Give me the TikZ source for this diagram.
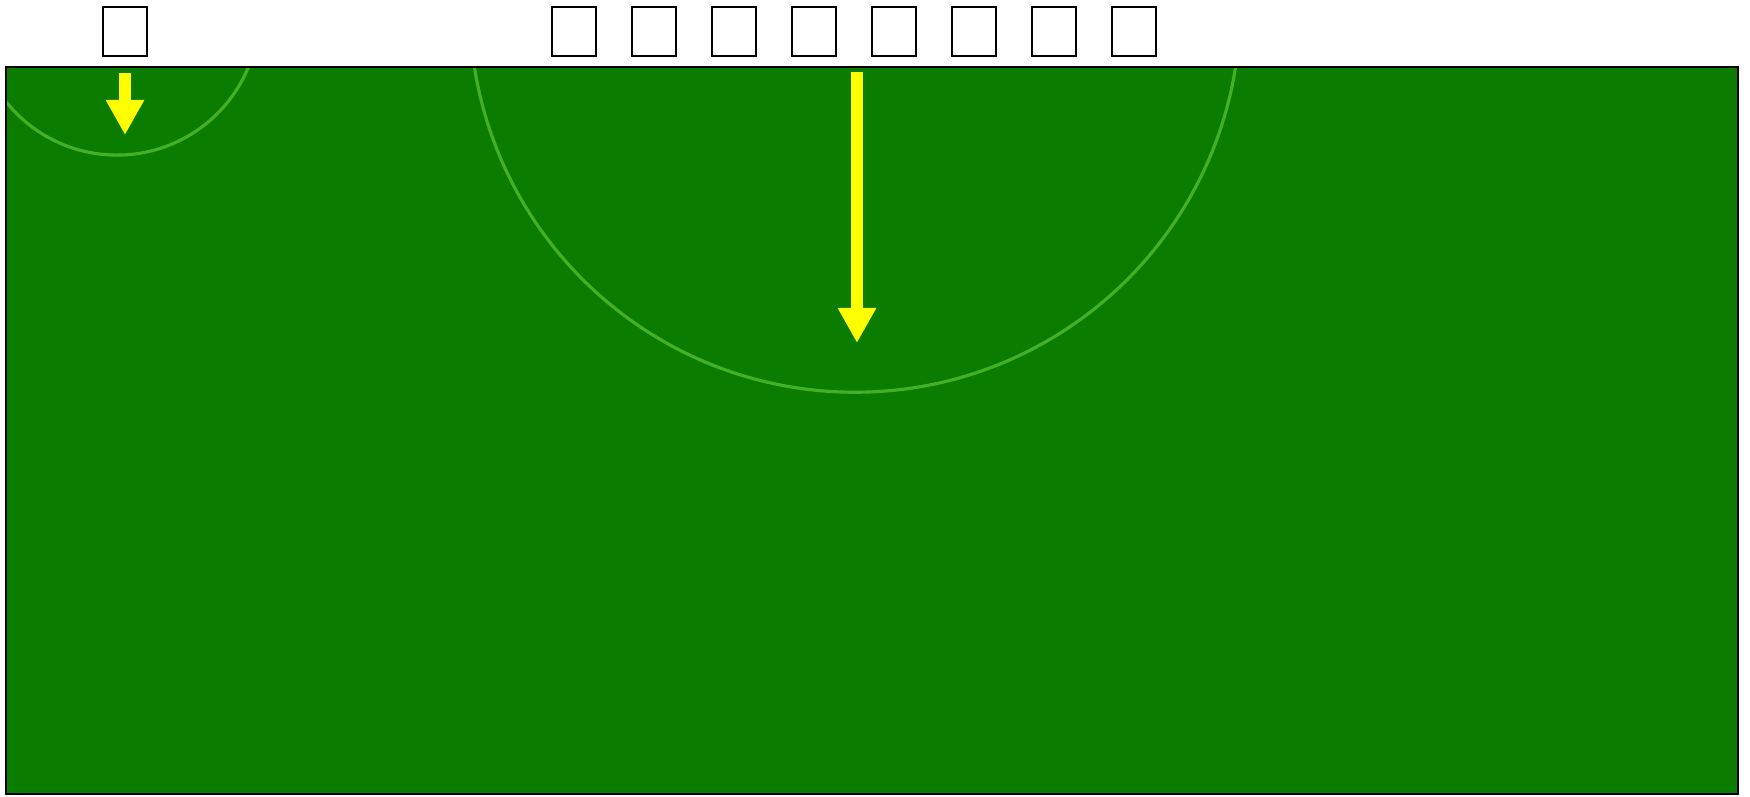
\documentclass[tikz,border=0pt]{standalone}
\usetikzlibrary{positioning,arrows.meta}
\definecolor{leaf}{RGB}{10,124,0}
\definecolor{rimgreen}{RGB}{80,186,42}
\definecolor{signal}{RGB}{255,255,0}
\begin{document}
\begin{tikzpicture}[x=0.01cm, y=-0.01cm,
  glyph/.style   = {rectangle, draw=black, line width=0.5pt,
                    minimum width=0.44cm, minimum height=0.49cm, inner sep=0pt},
  rim/.style     = {draw=rimgreen, line width=0.9pt, opacity=0.85},
  pointer/.style = {-{Triangle[length=0.35cm, width=0.36cm]}, draw=signal,
                    line width=0.12cm},
]
\useasboundingbox (0,0) rectangle (1750,796);
% photo
\fill[leaf] (6,67) rectangle (1738,794);
\begin{scope}
  \clip (6,67) rectangle (1738,794);
  \draw[rim] (117,13) circle[radius=1.42cm];
  \draw[rim] (855,7)  circle[radius=3.85cm];
\end{scope}
\draw[line width=0.45pt] (6,67) rectangle (1738,794);
% labels
\node[glyph] (mark) at (125,31.5) {};
\foreach \i in {0,...,7}
  \node[glyph] (tag\i) at (574+80*\i,31.5) {};
% pointers
\coordinate[below=0.16cm of mark] (markfrom);
\coordinate (markto)  at (125,135);
\coordinate (tagfrom) at (857,72);
\coordinate (tagto)   at (857,343);
\draw[pointer] (markfrom) -- (markto);
\draw[pointer] (tagfrom)  -- (tagto);
\end{tikzpicture}
\end{document}
